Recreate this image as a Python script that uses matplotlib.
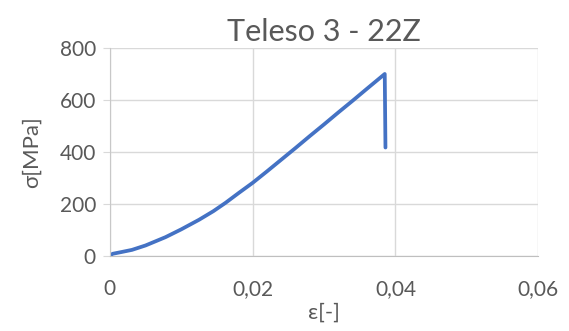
import matplotlib.pyplot as plt
from matplotlib.ticker import FuncFormatter

# stress-strain record, specimen 3 - 22Z
strain = [0.0, 0.0004, 0.0015, 0.0031, 0.0050, 0.0078, 0.0100, 0.0125, 0.0145,
          0.0162, 0.0181, 0.0200, 0.0220, 0.0240, 0.0260, 0.0280, 0.0300,
          0.0320, 0.0340, 0.0360, 0.0385, 0.0386]
stress = [0, 8, 14, 23, 40, 72, 102, 139, 172, 204, 243, 281, 325, 370, 415,
          461, 506, 552, 597, 643, 700, 417]

TITLE = 'Teleso 3 - 22Z'
X_TICKS = [0, 0.02, 0.04, 0.06]
Y_TICKS = [0, 200, 400, 600, 800]

plt.rcParams['font.family'] = ['Lato', 'DejaVu Sans']
text_col = '#595959'
grid_col = '#D9D9D9'

fig = plt.figure(figsize=(5.69, 3.31), dpi=100)
ax = fig.add_axes([0.193, 0.227, 0.753, 0.628])

ax.plot(strain, stress, color='#4472C4', lw=2.7, solid_joinstyle='round',
        solid_capstyle='round')

ax.set_xlim(0, 0.06)
ax.set_ylim(0, 800)
ax.set_xticks(X_TICKS)
ax.set_yticks(Y_TICKS)
ax.xaxis.set_major_formatter(FuncFormatter(
    lambda v, p: '0' if v == 0 else f'{v:g}'.replace('.', ',')))

ax.grid(True, color=grid_col, lw=1)
ax.set_axisbelow(True)
for side in ['top', 'right']:
    ax.spines[side].set_visible(False)
ax.spines['bottom'].set_color('#BFBFBF')
ax.spines['left'].set_color('#C8C8C8')
ax.tick_params(axis='y', length=5, color=grid_col, labelsize=15,
               labelcolor=text_col, pad=5)
ax.tick_params(axis='x', length=0, labelsize=15, labelcolor=text_col, pad=17)

ax.set_title(TITLE, fontsize=22, color=text_col, pad=5)
ax.set_xlabel('ε[-]', fontsize=16, color=text_col, labelpad=2)
ax.set_ylabel('σ[MPa]', fontsize=16, color=text_col, labelpad=13)

fig.savefig('out.png', dpi=100)
